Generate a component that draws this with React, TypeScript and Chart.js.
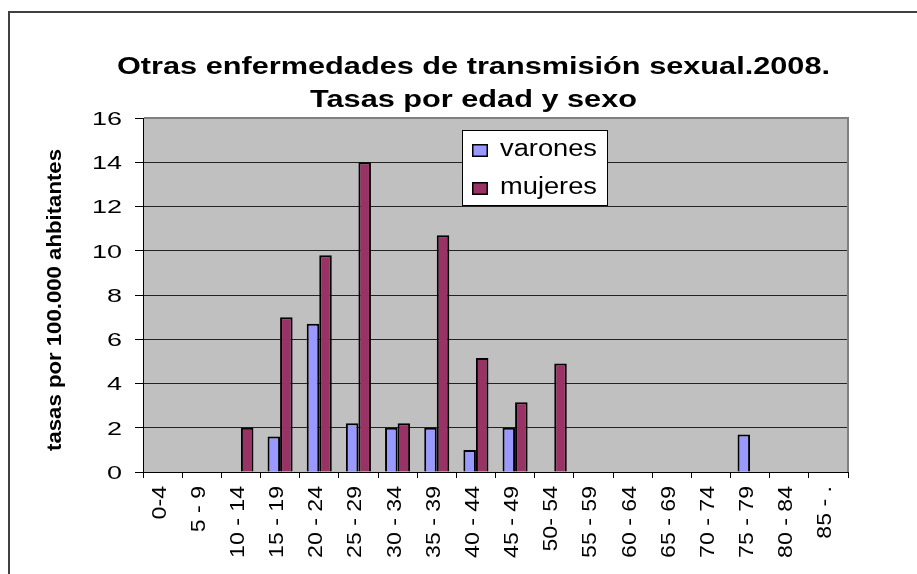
import React, { useEffect, useRef } from "react";
import { Chart, registerables } from "chart.js";

Chart.register(...registerables);

// ---- data ----
const categories = [
  "0-4", "5 - 9", "10 - 14", "15 - 19", "20 - 24", "25 - 29", "30 - 34", "35 - 39", "40 - 44",
  "45 - 49", "50- 54", "55 - 59", "60 - 64", "65 - 69", "70 - 74", "75 - 79", "80 - 84", "85 - .",
];
const varones = [0, 0, 0, 1.6, 6.7, 2.2, 2.0, 2.0, 1.0, 2.0, 0, 0, 0, 0, 0, 1.7, 0, 0];
const mujeres = [0, 0, 2.0, 7.0, 9.8, 14.0, 2.2, 10.7, 5.15, 3.15, 4.9, 0, 0, 0, 0, 0, 0, 0];
const seriesNames = ["varones", "mujeres"];
const yMin = 0;
const yMax = 16;
const yStep = 2;
const titleLines = ["Otras enfermedades de transmisión sexual.2008.", "Tasas por edad y sexo"];
const yTitle = "tasas por 100.000 ahbitantes";

const FONT = "'Liberation Sans', Arial, sans-serif";

function drawText(
  ctx: CanvasRenderingContext2D,
  text: string,
  x: number,
  y: number,
  font: string,
  align: CanvasTextAlign,
  sx: number,
  sy: number,
  rot: number,
  dy = 0
) {
  ctx.save();
  ctx.translate(x, y);
  if (rot) ctx.rotate(rot);
  ctx.scale(sx, sy);
  ctx.font = font;
  ctx.textAlign = align;
  ctx.textBaseline = "alphabetic";
  ctx.fillStyle = "#000";
  ctx.fillText(text, 0, dy);
  ctx.restore();
}

function measure(ctx: CanvasRenderingContext2D, text: string, font: string) {
  ctx.save();
  ctx.font = font;
  const w = ctx.measureText(text).width;
  ctx.restore();
  return w;
}

const decor = {
  id: "decor",
  beforeDraw(chart: any) {
    const { ctx, chartArea: a } = chart;
    ctx.save();
    ctx.fillStyle = "#ffffff";
    ctx.fillRect(0, 0, chart.width, chart.height);
    ctx.strokeStyle = "#404040";
    ctx.lineWidth = 2;
    ctx.strokeRect(9, 12, chart.width + 40, chart.height + 40);
    ctx.fillStyle = "#C0C0C0";
    ctx.fillRect(a.left, a.top, a.right - a.left, a.bottom - a.top);
    ctx.restore();
  },
  afterDraw(chart: any) {
    const { ctx, chartArea: a } = chart;
    ctx.save();
    // gray plot border top/right
    ctx.strokeStyle = "#808080";
    ctx.lineWidth = 2;
    ctx.beginPath();
    ctx.moveTo(a.left + 1, a.top);
    ctx.lineTo(a.right, a.top);
    ctx.lineTo(a.right, a.bottom);
    ctx.stroke();
    ctx.restore();

    // title
    const tFont = `bold 23px ${FONT}`;
    const tsx = 713 / measure(ctx, titleLines[0], tFont);
    drawText(ctx, titleLines[0], 473.5, 74, tFont, "center", tsx, 1, 0);
    drawText(ctx, titleLines[1], 473.5, 107, tFont, "center", tsx, 1, 0);

    // y title
    const yfFont = `bold 21px ${FONT}`;
    const ysl = 302 / measure(ctx, yTitle, yfFont);
    drawText(ctx, yTitle, 61, 300, yfFont, "center", ysl, 1, -Math.PI / 2);

    // y tick labels
    const ys = chart.scales.y;
    const tickFont = `19px ${FONT}`;
    const ytsx = 30 / measure(ctx, "16", tickFont);
    const capH = 0.716 * 19;
    ys.ticks.forEach((t: any) => {
      const py = ys.getPixelForValue(t.value);
      drawText(ctx, String(t.value), 122, py + capH / 2, tickFont, "right", ytsx, 1, 0);
    });

    // x tick labels (rotated)
    const xs = chart.scales.x;
    const labels = chart.data.labels as string[];
    const xFont = `21px ${FONT}`;
    const xCap = 0.716 * 21;
    xs.ticks.forEach((_t: any, i: number) => {
      const px = xs.getPixelForTick(i) - 4.5;
      drawText(ctx, labels[i], px, 486, xFont, "right", 1.1, 1, -Math.PI / 2, xCap / 2);
    });

    // legend
    ctx.save();
    ctx.fillStyle = "#ffffff";
    ctx.fillRect(462, 130, 146, 76);
    ctx.strokeStyle = "#000";
    ctx.lineWidth = 1;
    ctx.strokeRect(462.5, 130.5, 145, 75);
    ctx.restore();
    const lFont = `23px ${FONT}`;
    const lsx = 97 / measure(ctx, chart.data.datasets[0].label, lFont);
    const rowY = [144, 182];
    chart.data.datasets.forEach((ds: any, i: number) => {
      ctx.save();
      ctx.fillStyle = ds.backgroundColor;
      ctx.fillRect(472, rowY[i], 16, 13);
      ctx.strokeStyle = "#000";
      ctx.lineWidth = 1.5;
      ctx.strokeRect(472.75, rowY[i] + 0.75, 14.5, 11.5);
      ctx.restore();
      drawText(ctx, ds.label, 500, rowY[i] + 12, lFont, "left", lsx, 1, 0);
    });
  },
};

export default function App() {
  const ref = useRef<HTMLCanvasElement>(null);
  useEffect(() => {
    if (!ref.current) return;
    const chart = new Chart(ref.current, {
      type: "bar",
      data: {
        labels: categories,
        datasets: [
          {
            label: seriesNames[0],
            data: varones,
            backgroundColor: "#9999FF",
            borderColor: "#000000",
            borderWidth: 2,
            categoryPercentage: 0.64,
            barPercentage: 1,
          },
          {
            label: seriesNames[1],
            data: mujeres,
            backgroundColor: "#993366",
            borderColor: "#000000",
            borderWidth: 2,
            categoryPercentage: 0.64,
            barPercentage: 1,
          },
        ],
      },
      options: {
        responsive: false,
        devicePixelRatio: 1,
        animation: false,
        layout: { padding: { top: 118, right: 69, bottom: 0, left: 0 } },
        plugins: {
          legend: { display: false },
          title: { display: false },
          tooltip: { enabled: false },
        },
        scales: {
          x: {
            offset: true,
            grid: {
              offset: true,
              drawOnChartArea: false,
              drawTicks: true,
              tickLength: 6,
              tickColor: "#000",
              lineWidth: 1,
            },
            border: { display: true, color: "#000", width: 1 },
            ticks: { display: false, autoSkip: false },
            afterFit: (s: any) => {
              s.height = 102;
            },
          },
          y: {
            min: yMin,
            max: yMax,
            ticks: { display: false, stepSize: yStep },
            grid: {
              color: (c: any) => (c.tick && c.tick.value === yMax ? "#808080" : "#222222"),
              tickColor: "#000",
              tickLength: 8,
              lineWidth: 1,
            },
            border: { display: true, color: "#000", width: 1 },
            afterFit: (s: any) => {
              s.width = 143;
            },
          },
        },
      },
      plugins: [decor],
    });
    return () => chart.destroy();
  }, []);
  return (
    <div style={{ position: "fixed", left: 0, top: 0, width: 917, height: 574 }}>
      <canvas ref={ref} width={917} height={574} style={{ width: 917, height: 574, display: "block" }} />
    </div>
  );
}
